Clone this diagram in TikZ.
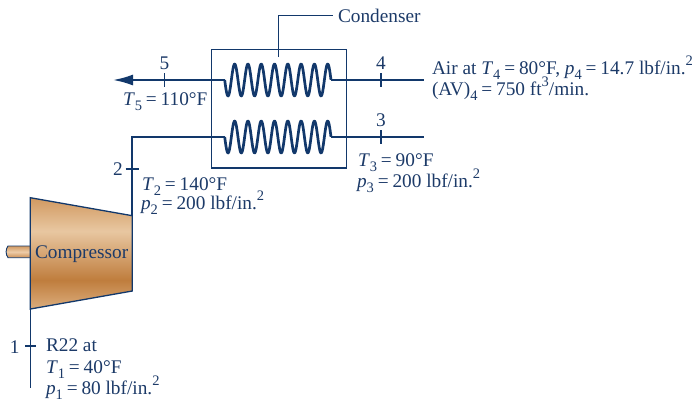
\documentclass[tikz,border=0pt]{standalone}
\usepackage{fontspec}
\setmainfont{Liberation Serif}
\usetikzlibrary{arrows.meta}
\definecolor{ink}{HTML}{12386B}
\definecolor{txt}{HTML}{1C3A68}
\definecolor{cuA}{rgb}{0.86,0.68,0.49}
\definecolor{cuB}{rgb}{0.75,0.49,0.24}
\definecolor{cuC}{rgb}{0.91,0.78,0.63}
\definecolor{cuD}{rgb}{0.82,0.60,0.38}
\definecolor{cuE}{rgb}{0.80,0.56,0.33}
\definecolor{cuF}{rgb}{0.93,0.80,0.66}
\pgfdeclareverticalshading{compshade}{100bp}{
 color(0bp)=(cuA);
 color(25bp)=(cuA);
 color(38bp)=(cuB);
 color(60bp)=(cuC);
 color(75bp)=(cuD);
 color(100bp)=(cuD)}
\pgfdeclareverticalshading{shaftshade}{100bp}{
 color(0bp)=(cuE);
 color(25bp)=(cuE);
 color(50bp)=(cuF);
 color(75bp)=(cuD);
 color(100bp)=(cuD)}
\newcommand{\dn}[1]{\smash{\raisebox{-.28em}{\fontsize{14.5}{14.5}\selectfont #1}}}
\newcommand{\up}[1]{\smash{\raisebox{.42em}{\fontsize{14.5}{14.5}\selectfont #1}}}
\newcommand{\eq}{\kern.2em=\kern.2em}
\tikzset{
 x=1pt,y=-1pt,
 lbl/.style={anchor=base west,inner sep=0pt,outer sep=0pt,text=txt,font=\fontsize{19.3}{20}\selectfont},
 lblc/.style={lbl,anchor=base},
 lble/.style={lbl,anchor=base east},
 pipe/.style={draw=ink,line width=2pt},
 coil/.style={draw=ink,line width=2.7pt,line join=round},
 thin line/.style={draw=ink,line width=1.3pt},
 tick/.style={draw=ink,line width=1.2pt},
}
\begin{document}
\begin{tikzpicture}
\useasboundingbox (0,0) rectangle (692,402);
% condenser
\node[draw=ink,line width=1.2pt,inner sep=0pt,minimum width=134.7pt,minimum height=118.6pt,anchor=north west] (cond) at (211,48.7) {};
\coordinate (c1in) at (224.7,80);
\coordinate (c1out) at (331,80);
\coordinate (c2in) at (224.7,137);
\coordinate (c2out) at (331,137);
\coordinate (tip) at (113,80);
\coordinate (r4) at (424,80);
\coordinate (r3) at (424,137);
\coordinate (elbow) at (132.3,137);
\coordinate (c2bot) at (132.3,215.7);
\coordinate (inlet) at (30.3,388);
\coordinate (cbot) at (30.3,309);
\coordinate (leadA) at (278.3,57);
\coordinate (leadB) at (278.3,15.7);
% compressor
\shade[shading=shaftshade] (30.3,246) -- (8,246) .. controls (5.5,249) and (5.5,254.5) .. (8,257.7) -- (30.3,257.7) -- cycle;
\draw[ink,line width=.9pt] (30.3,246) -- (8,246) .. controls (5.5,249) and (5.5,254.5) .. (8,257.7) -- (30.3,257.7);
\shade[shading=compshade] (30.3,197.7) -- (132.3,215.7) -- (132.3,291) -- (30.3,309) -- cycle;
\draw[thin line,line join=miter] (30.3,197.7) -- (c2bot) -- (132.3,291) -- (cbot) -- cycle;
% coils
\draw[coil] plot[domain=0:8,samples=240,smooth] ({224.7+13.29*\x},{80+16*sin(360*\x)});
\draw[coil] plot[domain=0:8,samples=240,smooth] ({224.7+13.29*\x},{137+16*sin(360*\x)});
% pipes
\draw[pipe,-{Latex[length=20pt,width=11pt]}] (c1in) -- (tip);
\draw[pipe] (c1out) -- (r4);
\draw[pipe] (c2out) -- (r3);
\draw[pipe] (c2in) -- (elbow) -- (c2bot);
\draw[pipe,line width=1.5pt] (cbot) -- (inlet);
\draw[thin line] (leadA) -- (leadB) -- (333,15.7);
% ticks
\draw[tick] (164.5,73) -- (164.5,87);
\draw[tick] (381,73) -- (381,87);
\draw[tick] (381,130) -- (381,144);
\draw[tick] (125.5,169) -- (139,169);
\draw[tick] (25,346) -- (36,346);
% labels
\node[lbl] (lcond) at (338,22) {Condenser};
\node[lblc] (n5) at (164.5,69) {5};
\node[lblc] (n4) at (381,69) {4};
\node[lblc] (n3) at (381,126) {3};
\node[lble] (n2) at (122.7,175) {2};
\node[lble] (n1) at (19.5,353) {1};
\node[lbl] (comp) at (35,258) {Compressor};
\node[lbl] (t5) at (123,105) {\textit{T}\dn{5}\eq 110°F};
\node[lbl] (air) at (432,74) {Air at \textit{T}\dn{4}\eq 80°F, \textit{p}\dn{4}\eq 14.7 lbf/in.\up{2}};
\node[lbl] (av) at (432,95) {(AV)\dn{4}\eq 750 ft\up{3}/min.};
\node[lbl] (t3) at (358,166) {\textit{T}\dn{3}\eq 90°F};
\node[lbl] (p3) at (357,187) {\textit{p}\dn{3}\eq 200 lbf/in.\up{2}};
\node[lbl] (t2) at (142,190) {\textit{T}\dn{2}\eq 140°F};
\node[lbl] (p2) at (141,209) {\textit{p}\dn{2}\eq 200 lbf/in.\up{2}};
\node[lbl] (r22) at (46,351) {R22 at};
\node[lbl] (t1) at (46,373) {\textit{T}\dn{1}\eq 40°F};
\node[lbl] (p1) at (46,394) {\textit{p}\dn{1}\eq 80 lbf/in.\up{2}};
\end{tikzpicture}
\end{document}
